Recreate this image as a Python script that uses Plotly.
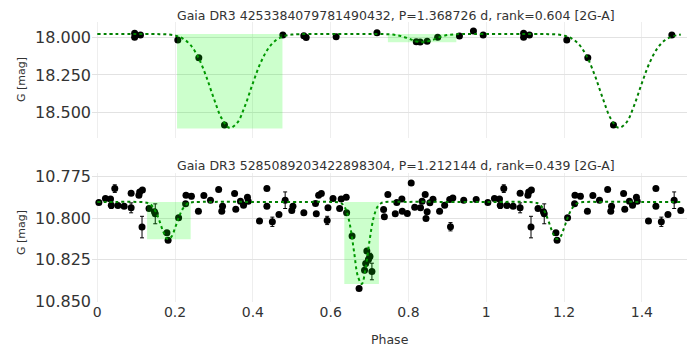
import plotly.graph_objects as go

# ---------------- data ----------------
top_title = "Gaia DR3 4253384079781490432, P=1.368726 d, rank=0.604 [2G-A]"
bot_title = "Gaia DR3 5285089203422898304, P=1.212144 d, rank=0.439 [2G-A]"

# folded observations, phase 0-1 (phases <= 0.5 are repeated at phase+1)
top_phase = [0.096, 0.096, 0.111, 0.207, 0.261, 0.327, 0.477, 0.531, 0.537,
             0.614, 0.719, 0.820, 0.830, 0.848, 0.875, 0.931, 0.967, 0.992]
top_mag = [17.976, 18.002, 17.987, 18.020, 18.136, 18.581, 17.987, 17.991, 18.004,
           17.998, 17.972, 18.031, 18.033, 18.028, 18.002, 17.993, 17.961, 17.987]

top_model_phase = [0.00, 0.05, 0.10, 0.14, 0.16, 0.18, 0.20, 0.22, 0.24, 0.26, 0.28,
                   0.30, 0.32, 0.34, 0.36, 0.38, 0.40, 0.42, 0.44, 0.46, 0.48, 0.50,
                   0.52, 0.56, 0.60, 0.65, 0.70, 0.72, 0.74, 0.76, 0.78, 0.80, 0.82,
                   0.84, 0.86, 0.88, 0.90, 0.92, 0.94, 0.97, 1.00]
top_model_mag = [17.980, 17.980, 17.980, 17.980, 17.981, 17.983, 17.990, 18.010, 18.054,
                 18.136, 18.260, 18.408, 18.538, 18.599, 18.565, 18.452, 18.304, 18.169,
                 18.074, 18.020, 17.995, 17.984, 17.981, 17.980, 17.980, 17.980, 17.980,
                 17.980, 17.981, 17.984, 17.993, 18.010, 18.029, 18.034, 18.021, 18.001,
                 17.987, 17.982, 17.980, 17.980, 17.980]

top_win_phase = [[0.205, 0.476], [0.747, 0.923]]
top_win_mag = [[17.980, 18.603], [17.980, 18.034]]

bot_phase = [0.004, 0.021, 0.034, 0.036, 0.045, 0.053, 0.069, 0.087, 0.087, 0.107,
             0.109, 0.116, 0.115, 0.133, 0.147, 0.149, 0.179, 0.182, 0.209, 0.227,
             0.228, 0.242, 0.260, 0.274, 0.291, 0.312, 0.320, 0.322, 0.353, 0.356,
             0.368, 0.376, 0.386, 0.388, 0.417, 0.436, 0.436, 0.450, 0.467, 0.483,
             0.500, 0.503, 0.531, 0.561, 0.563, 0.569, 0.576, 0.591, 0.593, 0.606,
             0.623, 0.627, 0.640, 0.641, 0.655, 0.673, 0.687, 0.690, 0.693, 0.697,
             0.701, 0.706, 0.736, 0.738, 0.747, 0.766, 0.770, 0.783, 0.784, 0.797,
             0.807, 0.816, 0.831, 0.835, 0.843, 0.845, 0.848, 0.855, 0.863, 0.880,
             0.893, 0.906, 0.908, 0.914, 0.942, 0.974]
bot_mag = [10.7906, 10.7882, 10.7884, 10.7922, 10.7822, 10.7924, 10.7928, 10.7850, 10.7938, 10.7862,
           10.7842, 10.7830, 10.8054, 10.7942, 10.7962, 10.7974, 10.8088, 10.8134, 10.7998, 10.7914,
           10.7862, 10.7868, 10.7958, 10.7864, 10.7892, 10.7828, 10.7958, 10.7928, 10.7852, 10.7946,
           10.7898, 10.7922, 10.7874, 10.7898, 10.8018, 10.7822, 10.7928, 10.8022, 10.7978, 10.7892,
           10.7954, 10.7928, 10.7968, 10.7912, 10.7974, 10.7862, 10.7852, 10.8014, 10.7938, 10.7882,
           10.7942, 10.7884, 10.7874, 10.7968, 10.8108, 10.8424, 10.8314, 10.8274, 10.8198, 10.8250,
           10.8232, 10.8322, 10.7948, 10.7992, 10.7858, 10.7974, 10.7906, 10.7884, 10.7958, 10.7972,
           10.7788, 10.7934, 10.7938, 10.7898, 10.7858, 10.8002, 10.7962, 10.7908, 10.7886, 10.7958,
           10.7922, 10.7888, 10.8052, 10.7878, 10.7892, 10.7888]
bot_err = [0, 0, 0, 0.002, 0.0023, 0, 0, 0, 0.003, 0,
           0, 0, 0.0065, 0, 0, 0.006, 0, 0, 0, 0,
           0, 0.0015, 0, 0, 0, 0, 0, 0, 0, 0,
           0, 0, 0, 0, 0, 0, 0, 0.0028, 0, 0.005,
           0, 0, 0, 0, 0, 0, 0, 0.0025, 0, 0,
           0, 0, 0, 0, 0.0015, 0, 0, 0, 0, 0.002,
           0.002, 0.005, 0, 0, 0, 0, 0, 0, 0, 0,
           0, 0, 0, 0, 0, 0, 0, 0, 0, 0,
           0, 0, 0.0025, 0, 0, 0]

bot_model_phase = [0.00, 0.05, 0.10, 0.12, 0.13, 0.14, 0.15, 0.16, 0.17, 0.18, 0.19,
                   0.20, 0.21, 0.22, 0.23, 0.24, 0.25, 0.30, 0.40, 0.50, 0.55, 0.60,
                   0.62, 0.63, 0.64, 0.65, 0.66, 0.67, 0.68, 0.69, 0.70, 0.71, 0.72,
                   0.73, 0.74, 0.80, 0.90, 1.00]
bot_model_mag = [10.7902, 10.7902, 10.7902, 10.7904, 10.7909, 10.7924, 10.7960, 10.8018,
                 10.8084, 10.8125, 10.8114, 10.8059, 10.7993, 10.7943, 10.7916, 10.7906,
                 10.7903, 10.7902, 10.7902, 10.7902, 10.7902, 10.7902, 10.7905, 10.7915,
                 10.7953, 10.8047, 10.8201, 10.8352, 10.8397, 10.8299, 10.8134, 10.8001,
                 10.7933, 10.7909, 10.7903, 10.7902, 10.7902, 10.7902]

bot_win_phase = [[0.128, 0.240], [0.635, 0.724]]
bot_win_mag = [[10.7902, 10.8127], [10.7902, 10.8398]]

x_tickvals = [0, 0.2, 0.4, 0.6, 0.8, 1.0, 1.2, 1.4]
top_tickvals = [18.0, 18.25, 18.5]
bot_tickvals = [10.775, 10.8, 10.825, 10.85]


def unfold(ph, *cols):
    """repeat phases <= 0.5 at phase + 1 (displayed range 0 - 1.5)"""
    out_p = list(ph)
    outs = [list(c) for c in cols]
    for i, p in enumerate(ph):
        if p + 1 <= 1.5:
            out_p.append(p + 1)
            for o, c in zip(outs, cols):
                o.append(c[i])
    return (out_p, *outs)


tp, tm = unfold(top_phase, top_mag)
tmp, tmm = unfold(top_model_phase, top_model_mag)
tmp, tmm = zip(*sorted(zip(tmp, tmm)))
bp, bm, be = unfold(bot_phase, bot_mag, bot_err)
bmp, bmm = unfold(bot_model_phase, bot_model_mag)
bmp, bmm = zip(*sorted(zip(bmp, bmm)))

FONT = "DejaVu Sans"
TXT = "#333333"
OFF = 8                      # page body margin of the html page
W, H = 700 - OFF, 349 - OFF  # figure size so that it fits the window
# plot area in page pixels: x 92..687, y 22..302
ML, MR, MT, MB = 92 - OFF, 700 - 687, 22 - OFF, 349 - 302
PW, PH = W - ML - MR, H - MT - MB


def py(pix):  # page pixel row -> paper y
    return (H - MB - (pix - OFF)) / PH


def px(pix):  # page pixel column -> paper x
    return ((pix - OFF) - ML) / PW


fig = go.Figure()

fig.add_trace(go.Scatter(x=tp, y=tm, mode="markers", xaxis="x", yaxis="y",
                         marker=dict(color="black", size=7), showlegend=False))
fig.add_trace(go.Scatter(x=list(tmp), y=list(tmm), mode="lines", xaxis="x", yaxis="y",
                         line=dict(color="green", width=2, dash="dot", shape="spline"),
                         showlegend=False))
fig.add_trace(go.Scatter(x=bp, y=bm, mode="markers", xaxis="x2", yaxis="y2",
                         marker=dict(color="black", size=7),
                         error_y=dict(type="data", array=be, color="black",
                                      thickness=1, width=2),
                         showlegend=False))
fig.add_trace(go.Scatter(x=list(bmp), y=list(bmm), mode="lines", xaxis="x2", yaxis="y2",
                         line=dict(color="green", width=2, dash="dot", shape="spline"),
                         showlegend=False))

for (x0, x1), (y0, y1) in zip(top_win_phase, top_win_mag):
    fig.add_shape(type="rect", xref="x", yref="y", x0=x0, x1=x1, y0=y0, y1=y1,
                  fillcolor="lime", opacity=0.2, line=dict(width=0), layer="above")
for (x0, x1), (y0, y1) in zip(bot_win_phase, bot_win_mag):
    fig.add_shape(type="rect", xref="x2", yref="y2", x0=x0, x1=x1, y0=y0, y1=y1,
                  fillcolor="lime", opacity=0.2, line=dict(width=0), layer="above")

xr = [-0.0136, 1.516]
xcommon = dict(range=xr, tickvals=x_tickvals, showgrid=True, gridcolor="#eeeeee",
               gridwidth=1, zeroline=False, showline=False, ticks="", automargin=False)
ycommon = dict(tickformat=".3f", gridcolor="#e2e2e2", zeroline=False, showline=False,
               ticks="", automargin=False, tickfont=dict(size=16, color=TXT))
fig.update_layout(
    template="none",
    width=W, height=H,
    margin=dict(l=ML, r=MR, t=MT, b=MB, autoexpand=False),
    paper_bgcolor="white", plot_bgcolor="white",
    font=dict(family=FONT, color=TXT),
    showlegend=False,
    xaxis=dict(**xcommon, domain=[0, 1], anchor="y", showticklabels=False),
    xaxis2=dict(**xcommon, domain=[0, 1], anchor="y2", matches="x",
                tickfont=dict(size=14, color=TXT)),
    yaxis=dict(**ycommon, domain=[py(138), 1], range=[18.666, 17.901],
               tickvals=top_tickvals),
    yaxis2=dict(**ycommon, domain=[0, py(172.7)], range=[10.8506, 10.7726],
                tickvals=bot_tickvals),
)

ann = [
    dict(text=top_title, x=px(396), y=py(15), xref="paper", yref="paper",
         showarrow=False, font=dict(size=12.5, color=TXT), xanchor="center", yanchor="middle"),
    dict(text=bot_title, x=px(396), y=py(165), xref="paper", yref="paper",
         showarrow=False, font=dict(size=12.5, color=TXT), xanchor="center", yanchor="middle"),
    dict(text="G [mag]", x=px(21), y=py(80), xref="paper", yref="paper", textangle=-90,
         showarrow=False, font=dict(size=11, color=TXT), xanchor="center", yanchor="middle"),
    dict(text="G [mag]", x=px(21), y=py(233), xref="paper", yref="paper", textangle=-90,
         showarrow=False, font=dict(size=11, color=TXT), xanchor="center", yanchor="middle"),
    dict(text="Phase", x=0.5, y=py(339), xref="paper", yref="paper",
         showarrow=False, font=dict(size=12.5, color=TXT), xanchor="center", yanchor="middle"),
]
fig.update_layout(annotations=ann)

fig.write_html("out.html")
